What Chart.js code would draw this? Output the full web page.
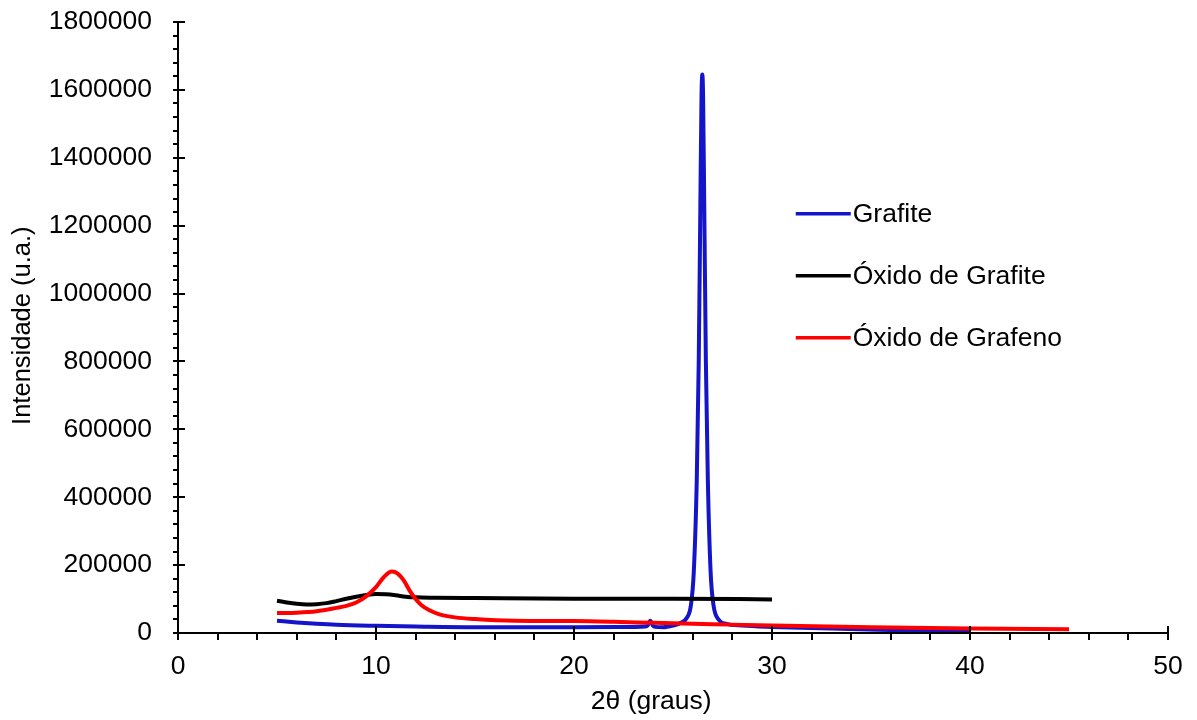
<!DOCTYPE html>
<html>
<head>
<meta charset="utf-8">
<script src="https://cdn.jsdelivr.net/npm/chart.js@4/dist/chart.umd.min.js"></script>
<style>
  html, body { margin: 0; padding: 0; background: #ffffff; }
  #wrap { width: 1197px; height: 720px; }
</style>
</head>
<body>
<div id="wrap"><canvas id="chart-xrd"></canvas></div>
<script>
// ---------------------------------------------------------------------------
// Dados
// ---------------------------------------------------------------------------
const SERIES_NAMES = ['Grafite', 'Óxido de Grafite', 'Óxido de Grafeno'];
const SERIES_COLORS = ['#1414c8', '#000000', '#ff0000'];
const X_TITLE = '2θ (graus)';
const Y_TITLE = 'Intensidade (u.a.)';

// Grafite
const grafiteX = [5, 6, 7, 8, 10, 12, 15, 20, 23, 23.6, 23.72, 23.85, 23.98, 24.1, 24.5, 25, 25.4, 25.7, 25.9, 26.05, 26.2, 26.3, 26.38, 26.44, 26.48, 26.52, 26.58, 26.66, 26.76, 26.9, 27.05, 27.3, 27.7, 28.5, 30, 33, 36, 40];
const grafiteY = [36000, 31000, 27000, 24000, 21000, 19000, 17000, 17000, 18000, 19000, 22000, 36000, 22000, 18000, 17000, 22000, 30000, 45000, 80000, 180000, 450000, 800000, 1250000, 1580000, 1645000, 1580000, 1250000, 800000, 450000, 180000, 80000, 40000, 27000, 22000, 18000, 13000, 9000, 4000];

// Óxido de Grafite
const oxGrafiteX = [5, 5.5, 6, 6.5, 7, 7.5, 8, 8.5, 9, 9.5, 10, 10.5, 11, 11.5, 12, 13, 15, 20, 25, 30];
const oxGrafiteY = [95000, 90000, 86000, 84000, 85000, 88000, 94000, 101000, 107000, 112000, 115000, 114000, 111000, 107000, 105000, 104000, 103000, 101000, 101000, 99000];

// Óxido de Grafeno
const oxGrafenoX = [5, 6, 7, 8, 8.5, 9, 9.5, 10, 10.4, 10.8, 11.1, 11.4, 11.7, 12, 12.3, 12.7, 13.2, 14, 15, 17, 20, 22, 24, 27, 30, 35, 40, 45];
const oxGrafenoY = [59000, 60000, 64000, 74000, 80000, 90000, 108000, 135000, 165000, 181000, 175000, 155000, 125000, 100000, 82000, 67000, 55000, 46000, 41000, 36000, 35000, 33000, 30000, 26000, 22000, 17000, 13000, 11000];

// Eixos
const X_MIN = 0, X_MAX = 50, X_MAJOR = 10, X_MINOR = 2;
const Y_MIN = 0, Y_MAX = 1800000, Y_MAJOR = 200000, Y_MINOR = 40000;

const FONT = 'Arial, "Liberation Sans", sans-serif';
const FONT_SIZE = 26.5;

function toPoints(xs, ys) {
    return xs.map((x, i) => ({ x: x, y: ys[i] }));
}

// ---------------------------------------------------------------------------
// Plugin: eixos com marcas maiores/menores (estilo Excel), títulos e legenda
// ---------------------------------------------------------------------------
const axesPlugin = {
    id: 'excelAxes',
    afterDraw(chart) {
        const ctx = chart.ctx;
        const xs = chart.scales.x;
        const ys = chart.scales.y;
        const area = chart.chartArea;
        ctx.save();
        ctx.strokeStyle = '#000';
        ctx.lineWidth = 2;
        ctx.lineCap = 'butt';

        // linhas dos eixos
        ctx.beginPath();
        ctx.moveTo(area.left, area.top);
        ctx.lineTo(area.left, area.bottom);
        ctx.lineTo(area.right, area.bottom);
        ctx.stroke();

        // eixo Y
        for (let v = Y_MIN; v <= Y_MAX + 1; v += Y_MINOR) {
            const py = Math.round(ys.getPixelForValue(v));
            const major = (v % Y_MAJOR) === 0;
            ctx.beginPath();
            ctx.moveTo(area.left - 5, py);
            ctx.lineTo(area.left + (major ? 7 : 0), py);
            ctx.stroke();
        }
        // eixo X
        for (let v = X_MIN; v <= X_MAX + 0.001; v += X_MINOR) {
            const px = Math.round(xs.getPixelForValue(v));
            const major = (v % X_MAJOR) === 0;
            ctx.beginPath();
            ctx.moveTo(px, area.bottom + 7);
            ctx.lineTo(px, area.bottom - (major ? 7 : 0));
            ctx.stroke();
        }

        // títulos dos eixos
        ctx.fillStyle = '#000';
        ctx.textAlign = 'center';
        ctx.textBaseline = 'middle';
        ctx.font = FONT_SIZE + 'px ' + FONT;
        ctx.fillText(X_TITLE, area.left + area.width * 0.478, area.bottom + 69);
        ctx.save();
        ctx.translate(area.left - 155, area.top + area.height * 0.497);
        ctx.rotate(-Math.PI / 2);
        ctx.font = '25.5px ' + FONT;
        ctx.fillText(Y_TITLE, 0, 0);
        ctx.restore();

        // legenda
        const lx = area.left + area.width * 0.624;
        const ly0 = area.top + area.height * 0.314;
        const step = 62;
        ctx.font = FONT_SIZE + 'px ' + FONT;
        ctx.textBaseline = 'middle';
        ctx.textAlign = 'left';
        chart.data.datasets.forEach((ds, i) => {
            const y = ly0 + i * step;
            ctx.strokeStyle = ds.borderColor;
            ctx.lineWidth = 3.5;
            ctx.beginPath();
            ctx.moveTo(lx, y);
            ctx.lineTo(lx + 55, y);
            ctx.stroke();
            ctx.fillStyle = '#000';
            ctx.fillText(ds.label, lx + 57, y + 1);
        });
        ctx.restore();
    }
};

const datasets = [
    [grafiteX, grafiteY],
    [oxGrafiteX, oxGrafiteY],
    [oxGrafenoX, oxGrafenoY]
].map((d, i) => ({
    label: SERIES_NAMES[i],
    data: toPoints(d[0], d[1]),
    borderColor: SERIES_COLORS[i],
    backgroundColor: SERIES_COLORS[i],
    borderWidth: 4,
    showLine: true,
    pointRadius: 0,
    cubicInterpolationMode: 'monotone',
    fill: false
}));

// ordem do Excel: vermelho por cima
datasets[0].order = 2;
datasets[1].order = 1;
datasets[2].order = 0;

new Chart(document.getElementById('chart-xrd').getContext('2d'), {
    type: 'scatter',
    data: { datasets: datasets },
    plugins: [axesPlugin],
    options: {
        responsive: true,
        maintainAspectRatio: false,
        animation: false,
        layout: { padding: { left: 0, right: 29, top: 22, bottom: 0 } },
        plugins: {
            legend: { display: false },
            tooltip: { enabled: false }
        },
        scales: {
            x: {
                type: 'linear',
                min: X_MIN,
                max: X_MAX,
                afterFit: s => { s.height = 87; s.paddingLeft = 0; s.paddingRight = 0; },
                grid: { display: false, drawTicks: false },
                border: { display: false },
                ticks: {
                    stepSize: X_MAJOR,
                    color: '#000',
                    padding: 18,
                    maxRotation: 0,
                    font: { family: FONT, size: FONT_SIZE }
                }
            },
            y: {
                type: 'linear',
                min: Y_MIN,
                max: Y_MAX,
                afterFit: s => { s.width = 178; s.paddingTop = 0; s.paddingBottom = 0; },
                grid: { display: false, drawTicks: false },
                border: { display: false },
                ticks: {
                    stepSize: Y_MAJOR,
                    color: '#000',
                    padding: 26,
                    font: { family: FONT, size: FONT_SIZE },
                    callback: v => String(v)
                }
            }
        }
    }
});
</script>
</body>
</html>
